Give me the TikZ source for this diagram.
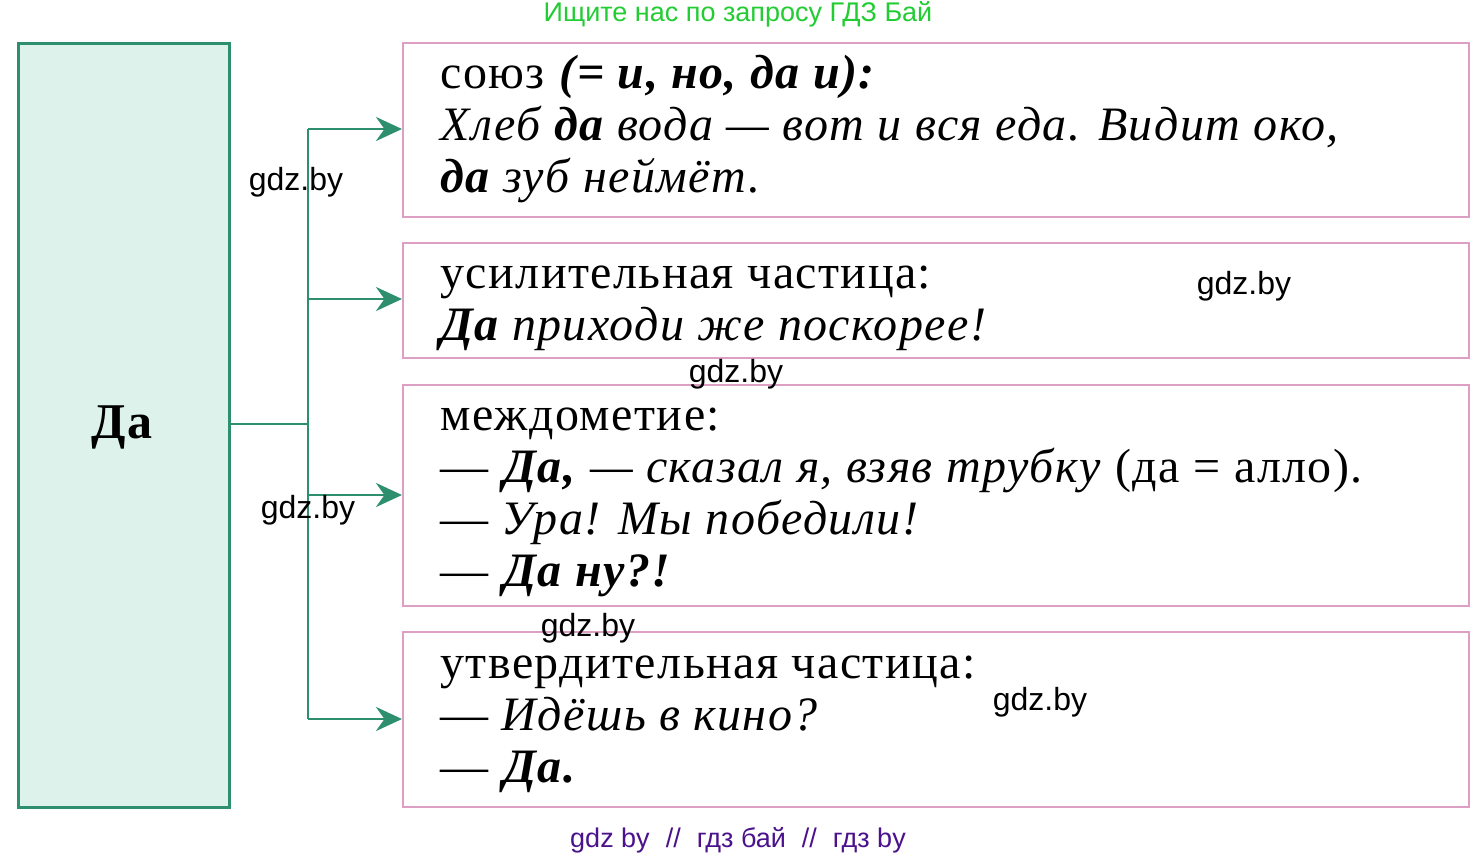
\documentclass[tikz,border=0pt]{standalone}
\usepackage{fontspec}
\setmainfont{Liberation Serif}[LetterSpace=3]
\newfontfamily\wmfont{Liberation Sans}
\usetikzlibrary{arrows.meta}
\definecolor{lgreen}{HTML}{2E8F6E}
\definecolor{lfill}{HTML}{DEF2EC}
\definecolor{lpink}{HTML}{DDA0C4}
\definecolor{wgreen}{HTML}{22CC33}
\definecolor{wpurple}{HTML}{4B128C}
\tikzset{
  leftbox/.style={draw=lgreen, fill=lfill, line width=1.3pt},
  rbox/.style={draw=lpink, line width=1.1pt},
  conn/.style={draw=lgreen, line width=1.3pt},
  arr/.style={conn, -{Stealth[length=13pt,width=12pt]}},
  txt/.style={anchor=base west, inner sep=0pt, font=\fontsize{24pt}{28pt}\selectfont},
  wm/.style={inner sep=0pt, font=\wmfont\fontsize{16pt}{18pt}\selectfont},
  wmline/.style={inner sep=0pt, font=\wmfont\fontsize{13.5pt}{16pt}\selectfont},
}
\newcommand{\bi}[1]{\textbf{\textit{#1}}}
\newcommand{\wsep}{\hspace{8pt}//\hspace{8pt}}
\begin{document}
\begin{tikzpicture}[x=0.5pt,y=-0.5pt]
\useasboundingbox (0,0) rectangle (1478,858);
\fill[white] (0,0) rectangle (1478,858);
% boxes
\node[leftbox, minimum width=105.5pt, minimum height=382pt, anchor=north west] (L) at (17,42) {};
\node[font=\bfseries\fontsize{25pt}{30pt}\selectfont] (da) at (122,427) {Да};
\node[rbox, anchor=north west, minimum width=533pt, minimum height=87pt] (b1) at (402,42) {};
\node[rbox, anchor=north west, minimum width=533pt, minimum height=57.5pt] (b2) at (402,242) {};
\node[rbox, anchor=north west, minimum width=533pt, minimum height=110.5pt] (b3) at (402,384) {};
\node[rbox, anchor=north west, minimum width=533pt, minimum height=87.5pt] (b4) at (402,631) {};
% connectors
\coordinate (j) at (308,424);
\coordinate (t1) at (308,129);
\coordinate (t2) at (308,299);
\coordinate (t3) at (308,495);
\coordinate (t4) at (308,719);
\draw[conn] (L.east |- j) -- (j);
\draw[conn] (t1) -- (t4);
\draw[arr] (t1) -- (t1 -| b1.west);
\draw[arr] (t2) -- (t2 -| b2.west);
\draw[arr] (t3) -- (t3 -| b3.west);
\draw[arr] (t4) -- (t4 -| b4.west);
% texts
\node[txt] (l11) at (440,88) {союз \bi{(= и, но, да и):}};
\node[txt] (l12) at (440,140) {\textit{Хлеб \textbf{да} вода — вот и вся еда. Видит око,}};
\node[txt] (l13) at (440,192) {\textit{\textbf{да} зуб неймёт.}};
\node[txt] (l21) at (440,288) {усилительная частица:};
\node[txt] (l22) at (440,340) {\textit{\textbf{Да} приходи же поскорее!}};
\node[txt] (l31) at (440,430) {междометие:};
\node[txt] (l32) at (440,482) {— \bi{Да,} \textit{— сказал я, взяв трубку} (да = алло).};
\node[txt] (l33) at (440,534) {— \textit{Ура! Мы победили!}};
\node[txt] (l34) at (440,586) {— \bi{Да ну?!}};
\node[txt] (l41) at (440,678) {утвердительная частица:};
\node[txt] (l42) at (440,730) {— \textit{Идёшь в кино?}};
\node[txt] (l43) at (440,782) {— \bi{Да.}};
% watermarks
\node[wmline, text=wgreen] (w0) at (738,14) {Ищите нас по запросу ГДЗ Бай};
\node[wm] (w1) at (296,182) {gdz.by};
\node[wm] (w2) at (1244,286) {gdz.by};
\node[wm] (w3) at (736,374) {gdz.by};
\node[wm] (w4) at (308,510) {gdz.by};
\node[wm] (w5) at (588,628) {gdz.by};
\node[wm] (w6) at (1040,702) {gdz.by};
\node[wmline, text=wpurple] (w7) at (738,840) {gdz by\wsep гдз бай\wsep гдз by};
\end{tikzpicture}
\end{document}
